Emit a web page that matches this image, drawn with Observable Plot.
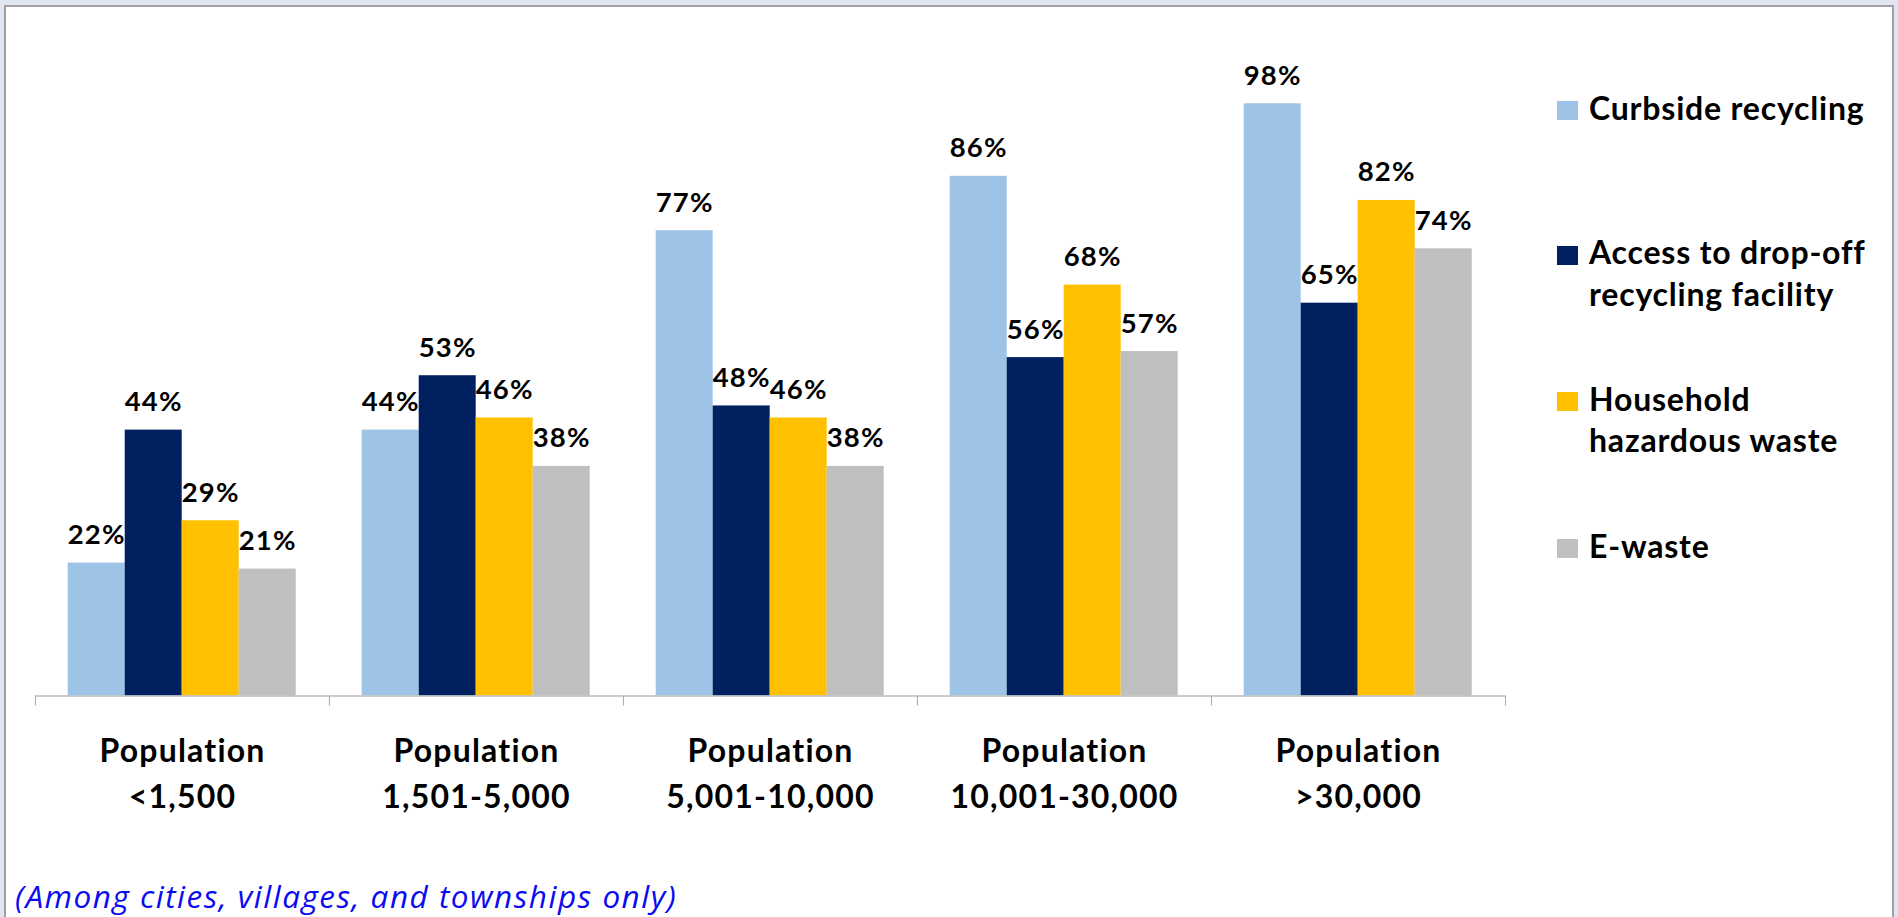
<!DOCTYPE html>
<html>
<head>
<meta charset="utf-8">
<script src="https://cdn.jsdelivr.net/npm/d3@7"></script>
<script src="https://cdn.jsdelivr.net/npm/@observablehq/plot@0.6"></script>
<style>
  html, body { margin: 0; padding: 0; width: 1898px; height: 917px; overflow: hidden; background: #dfe6f1; }
  #frame { position: absolute; left: 4px; top: 5px; width: 1886px; height: 930px; background: #fff;
           border-left: 2px solid #a0a0a0; border-top: 2px solid #a0a0a0; border-right: 2px solid #a0a0a0; }
  #chart { position: absolute; left: 0; top: 0; }
  #chart svg { font-variant-ligatures: none; letter-spacing: 1.2px; }
  #legend { position: absolute; left: 1557px; top: 0; font-family: Lato, sans-serif; font-weight: 700;
            font-size: 32px; line-height: 1.3; color: #000; letter-spacing: 0.8px; font-variant-ligatures: none; }
  .item { position: absolute; left: 0; white-space: pre; }
  .sw { position: absolute; left: 0; width: 21px; height: 19px; }
  .lab { position: absolute; left: 32px; top: 0; }
  #caption { position: absolute; left: 15px; top: 875px; font-family: "Open Sans", sans-serif; font-style: italic;
             font-size: 31.5px; line-height: 1.362; color: #0b0bef; white-space: nowrap; letter-spacing: 1.5px; }
</style>
</head>
<body>
<div id="frame"></div>
<div id="chart"></div>
<div id="legend"></div>
<div id="caption">(Among cities, villages, and townships only)</div>
<script>
// ---- data ----
const categories = ["Population\n<1,500", "Population\n1,501-5,000", "Population\n5,001-10,000", "Population\n10,001-30,000", "Population\n>30,000"];
const series = ["Curbside recycling", "Access to drop-off recycling facility", "Household hazardous waste", "E-waste"];
const legendLabels = ["Curbside recycling", "Access to drop-off\nrecycling facility", "Household\nhazardous waste", "E-waste"];
const curbside  = [22, 44, 77, 86, 98];
const dropoff   = [44, 53, 48, 56, 65];
const hazardous = [29, 46, 46, 68, 82];
const ewaste    = [21, 38, 38, 57, 74];
const colors = ["#9dc3e6", "#002060", "#ffc000", "#bfbfbf"];

const valuesBySeries = [curbside, dropoff, hazardous, ewaste];
const rows = [];
categories.forEach((c, i) => series.forEach((s, j) => rows.push({cat: c, series: s, value: valuesBySeries[j][i]})));

// ---- layout ----
const W = 1898, H = 830;
const mL = 34.3, mR = W - 1505, mT = 91.2, mB = H - 695.5;
const fxStep = (W - mL - mR) / categories.length;

const chart = Plot.plot({
  width: W, height: H,
  marginLeft: mL, marginRight: mR, marginTop: mT, marginBottom: mB,
  style: {background: "transparent", fontFamily: "Lato, sans-serif"},
  fx: {domain: categories, padding: 0, label: null},
  x: {domain: series, paddingInner: 0, paddingOuter: 0.575, axis: null},
  y: {domain: [0, 100], axis: null},
  color: {domain: series, range: colors},
  marks: [
    Plot.barY(rows, {fx: "cat", x: "series", y: "value", fill: "series"}),
    Plot.ruleY([0], {stroke: "#bcbcbc", strokeWidth: 1.5}),
    Plot.axisFx({anchor: "bottom", tickSize: 10, tickFormat: () => "", dx: -fxStep / 2, stroke: "#a8a8a8", label: null}),
    Plot.axisFx({anchor: "bottom", ticks: [categories[categories.length - 1]], tickSize: 10, tickFormat: () => "", dx: fxStep / 2, stroke: "#a8a8a8", label: null}),
    Plot.axisFx({anchor: "bottom", tickSize: 0, tickPadding: 33.5, fontSize: 32, fontWeight: 700, lineHeight: 1.43, fill: "#000", label: null}),
    Plot.text(rows, {fx: "cat", x: "series", y: "value", text: d => d.value + "%", dy: -19, lineAnchor: "bottom",
                     fontSize: 27.5, fontWeight: 700, fill: "#000"})
  ]
});
document.getElementById("chart").appendChild(chart);

// ---- legend ----
const legend = document.getElementById("legend");
const baselines = [120, 264.3, 411, 557.7];
series.forEach((s, j) => {
  const item = document.createElement("div");
  item.className = "item";
  item.style.top = (baselines[j] - 33.2) + "px";
  const sw = document.createElement("div");
  sw.className = "sw";
  sw.style.background = colors[j];
  sw.style.top = (33.2 - 18.5) + "px";
  const lab = document.createElement("div");
  lab.className = "lab";
  lab.textContent = legendLabels[j];
  item.appendChild(sw);
  item.appendChild(lab);
  legend.appendChild(item);
});
</script>
</body>
</html>
